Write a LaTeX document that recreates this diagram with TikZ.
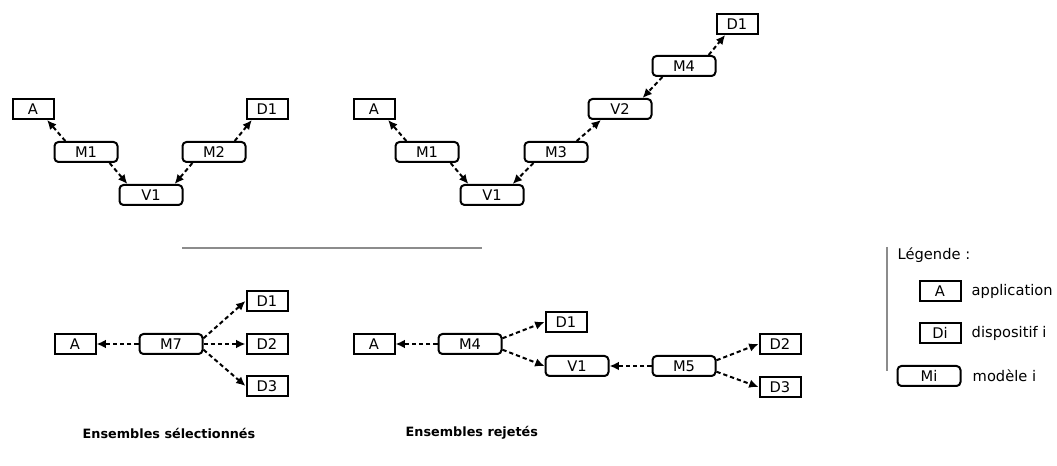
\documentclass[tikz,border=0pt]{standalone}
\usepackage{fontspec}
\setmainfont{DejaVu Sans}
\usetikzlibrary{arrows.meta}

\begin{document}
\begin{tikzpicture}[x=0.75pt, y=-0.75pt, font=\fontsize{11}{13}\selectfont,
    box/.style={draw, line width=1.5pt, minimum width=30.75pt, minimum height=15pt, inner sep=0pt},
    modbox/.style={box, rounded corners=3pt, minimum width=47.25pt},
    link/.style={-{Latex[length=7pt,width=6.5pt]}, line width=1.5pt, dash pattern=on 3.2pt off 2.2pt},
    sepline/.style={draw=gray!90, line width=1.1pt},
    titre/.style={anchor=west, font=\fontsize{9.6}{11}\selectfont\bfseries}]
  \useasboundingbox (0,0) rectangle (1057,466);
  % ensemble 1 (haut gauche)
  \node[box] (A1) at (33,109) {A};
  \node[modbox] (M1a) at (86,152) {M1};
  \node[modbox] (V1a) at (151,195) {V1};
  \node[modbox] (M2a) at (214,152) {M2};
  \node[box] (D1a) at (267,109) {D1};
  \draw[link] (M1a.152) -- (A1.-38);
  \draw[link] (M1a.-25) -- (V1a.155);
  \draw[link] (M2a.-153) -- (V1a.25);
  \draw[link] (M2a.28) -- (D1a.-144);
  % ensemble 2 (haut droite)
  \node[box] (A2) at (374,109) {A};
  \node[modbox] (M1b) at (427,152) {M1};
  \node[modbox] (V1b) at (492,195) {V1};
  \node[modbox] (M3b) at (556,152) {M3};
  \node[modbox] (V2b) at (620,109) {V2};
  \node[modbox] (M4b) at (684,66) {M4};
  \node[box] (D1b) at (737,24) {D1};
  \draw[link] (M1b.152) -- (A2.-38);
  \draw[link] (M1b.-25) -- (V1b.155);
  \draw[link] (M3b.-154) -- (V1b.28);
  \draw[link] (M3b.28) -- (V2b.-150);
  \draw[link] (M4b.-153) -- (V2b.26);
  \draw[link] (M4b.24) -- (D1b.-137);
  % separation
  \coordinate (s1) at (182,248);
  \coordinate (s2) at (482,248);
  \draw[sepline] (s1) -- (s2);
  % ensemble 3 (bas gauche)
  \node[box] (A3) at (75,344) {A};
  \node[modbox] (M7) at (171,344) {M7};
  \node[box] (D1c) at (267,301) {D1};
  \node[box] (D2c) at (267,344) {D2};
  \node[box] (D3c) at (267,386) {D3};
  \draw[link] (M7.west) -- (A3.east);
  \draw[link] (M7.10) -- (D1c.west);
  \draw[link] (M7.east) -- (D2c.west);
  \draw[link] (M7.-10) -- (D3c.west);
  % ensemble 4 (bas droite)
  \node[box] (A4) at (374,344) {A};
  \node[modbox] (M4d) at (470,344) {M4};
  \node[box] (D1d) at (566,322) {D1};
  \node[modbox] (V1d) at (577,366) {V1};
  \node[modbox] (M5d) at (684,366) {M5};
  \node[box] (D2d) at (780,344) {D2};
  \node[box] (D3d) at (780,387) {D3};
  \draw[link] (M4d.west) -- (A4.east);
  \draw[link] (M4d.10) -- (D1d.west);
  \draw[link] (M4d.-10) -- (V1d.west);
  \draw[link] (M5d.west) -- (V1d.east);
  \draw[link] (M5d.10) -- (D2d.west);
  \draw[link] (M5d.-10) -- (D3d.west);
  % titres
  \node[titre] (tsel) at (78,433) {Ensembles sélectionnés};
  \node[titre] (trej) at (401,433) {Ensembles rejetés};
  % legende
  \coordinate (l1) at (887,247);
  \coordinate (l2) at (887,371);
  \draw[sepline] (l1) -- (l2);
  \node[anchor=west] (leg) at (893,255) {Légende :};
  \node[box] (LA) at (940,291) {A};
  \node[box] (LD) at (940,333) {Di};
  \node[modbox] (LM) at (929,376) {Mi};
  \node[anchor=west] (tA) at (967,291) {application};
  \node[anchor=west] (tD) at (967,333) {dispositif i};
  \node[anchor=west] (tM) at (968,376) {modèle i};
\end{tikzpicture}
\end{document}
